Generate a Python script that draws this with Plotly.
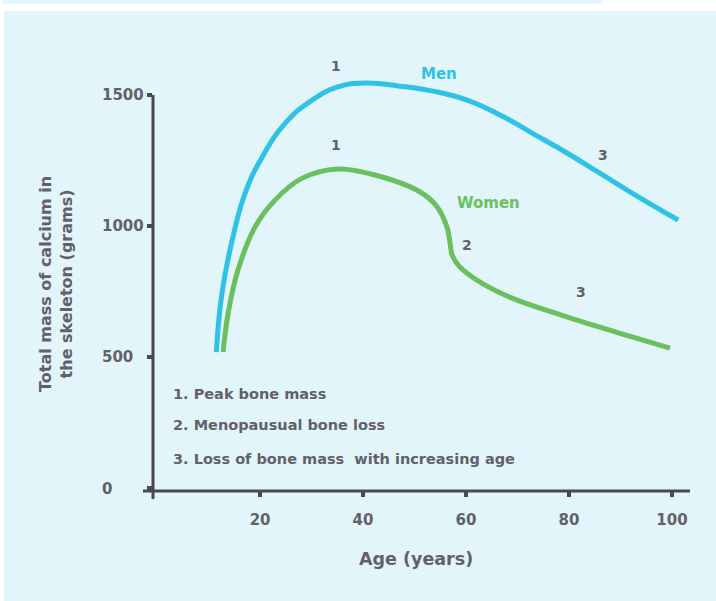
import plotly.graph_objects as go

# ---- data ----
men_age = [11.5, 12.6, 14.6, 17.1, 20.4, 24.9, 30.1, 35.1, 40.4, 47.2, 53.6, 60.2, 66.6, 73.0, 79.6, 86.0, 92.4, 101.2]
men_ca = [519, 744, 947, 1126, 1263, 1393, 1481, 1531, 1546, 1534, 1515, 1481, 1424, 1353, 1279, 1202, 1124, 1023]

women_age = [12.8, 13.8, 15.7, 19.0, 22.9, 28.2, 35.1, 42.3, 51.1, 54.4, 56.3, 56.9, 57.3, 58.8, 66.6, 79.6, 92.4, 99.6]
women_ca = [519, 668, 832, 996, 1099, 1183, 1218, 1195, 1130, 1073, 996, 935, 889, 844, 745, 653, 576, 534]

x_ticks = [20, 40, 60, 80, 100]
y_ticks = [0, 500, 1000, 1500]
y_tick_labels = ["0", "500", "1000", "1500"]

notes = ["1. Peak bone mass", "2. Menopausual bone loss", "3. Loss of bone mass  with increasing age"]
note_y = [359, 240, 111]

BLUE = "#2EC3E6"
GREEN = "#6ABF5E"
BG = "#E2F5FB"
TXT = "#636168"
AX = "#4A494F"
FONT = "DejaVu Sans"

XR = [-0.8, 103.5]
YR = [-11.5, 1634]

fig = go.Figure()
fig.add_trace(go.Scatter(x=men_age, y=men_ca, mode="lines",
                         line=dict(color=BLUE, width=5, shape="spline", smoothing=1.3),
                         hoverinfo="skip", showlegend=False))
fig.add_trace(go.Scatter(x=women_age, y=women_ca, mode="lines",
                         line=dict(color=GREEN, width=5, shape="spline", smoothing=1.0),
                         hoverinfo="skip", showlegend=False))

def py(v):
    return (v - YR[0]) / (YR[1] - YR[0])

shapes = [
    dict(type="rect", xref="paper", yref="paper", x0=(3-153)/537, x1=(602-153)/537,
         y0=(491-3.7)/431, y1=491/431 + 0.01, layer="below", line_width=0, fillcolor=BG),
    dict(type="rect", xref="paper", yref="paper", x0=(4-153)/537, x1=(716-153)/537 + 0.01,
         y0=(491-601)/431 - 0.01, y1=(491-11)/431, layer="below", line_width=0, fillcolor=BG),
    dict(type="line", xref="paper", yref="paper", x0=0, x1=0, y0=(491-499)/431, y1=py(1500),
         line=dict(color=AX, width=3)),
    dict(type="line", xref="paper", yref="paper", x0=-10/537, x1=1, y0=0, y1=0,
         line=dict(color=AX, width=3)),
]

ann = []
def lab(x, y, t, color=TXT, size=14):
    ann.append(dict(x=x, y=y, xref="x", yref="y", text=t, showarrow=False,
                    font=dict(family=FONT, size=size, color=color, weight="bold")))

lab(34.7, 1610, "1")
lab(34.7, 1308, "1")
lab(54.8, 1580, "Men", BLUE, 15)
lab(64.3, 1087, "Women", GREEN, 15)
lab(60.2, 928, "2")
lab(86.6, 1270, "3")
lab(82.3, 750, "3")

# y tick labels, left-aligned as in the original
for v, t in zip(y_ticks, y_tick_labels):
    ann.append(dict(x=(100-153)/537, y=v, xref="paper", yref="y", text=t,
                    showarrow=False, xanchor="left", yanchor="middle",
                    yshift=-1 if v == 0 else 0,
                    font=dict(family=FONT, size=15, color=TXT, weight="bold")))

for t, yv in zip(notes, note_y):
    ann.append(dict(x=(171-153)/537, y=yv, xref="paper", yref="y",
                    text=t, showarrow=False, xanchor="left",
                    font=dict(family=FONT, size=14.5, color=TXT, weight="bold")))

ann.append(dict(x=(416-153)/537, y=(491-559)/431, xref="paper", yref="paper",
                text="Age (years)", showarrow=False, xanchor="center", yanchor="middle",
                font=dict(family=FONT, size=17.5, color=TXT, weight="bold")))
ann.append(dict(x=(56-153)/537, y=(491-284)/431, xref="paper", yref="paper",
                text="Total mass of calcium in<br>the skeleton (grams)", showarrow=False,
                textangle=-90, xanchor="center", yanchor="middle",
                font=dict(family=FONT, size=16, color=TXT, weight="bold")))

fig.update_layout(
    width=716, height=601,
    margin=dict(l=153, r=26, t=60, b=110),
    paper_bgcolor="white", plot_bgcolor="rgba(0,0,0,0)",
    shapes=shapes, annotations=ann, showlegend=False,
    xaxis=dict(range=XR, tickvals=x_ticks, ticks="outside", ticklen=5, tickwidth=4,
               tickcolor=AX, showgrid=False, zeroline=False, showline=False,
               ticklabelstandoff=10,
               tickfont=dict(family=FONT, size=15, color=TXT, weight="bold")),
    yaxis=dict(range=YR, tickvals=y_ticks, ticks="outside", ticklen=5, tickwidth=4,
               tickcolor=AX, showgrid=False, zeroline=False, showline=False,
               showticklabels=False),
)

fig.write_html("out.html", config={"displayModeBar": False},
               post_script="document.body.style.margin='0';")
